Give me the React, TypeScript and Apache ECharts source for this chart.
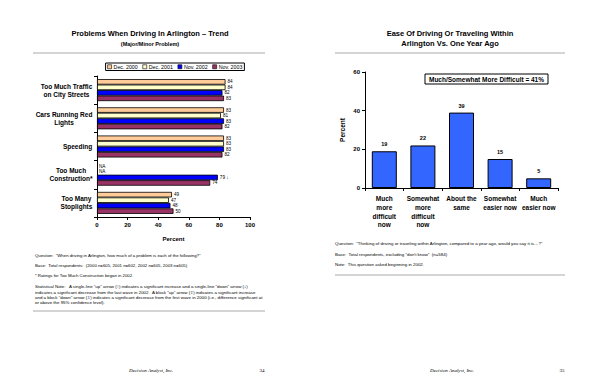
import React, { useEffect, useRef } from "react";
import * as echarts from "echarts";

// ---- Left chart data ----
const problemCategories = [
  "Too Much Traffic\non City Streets",
  "Cars Running Red\nLights",
  "Speeding",
  "Too Much\nConstruction*",
  "Too Many\nStoplights",
];
const seriesNames = ["Dec. 2000", "Dec. 2001", "Nov. 2002", "Nov. 2003"];
const dec2000 = [84, 83, 83, null, 49];
const dec2001 = [84, 81, 83, null, 47];
const nov2002 = [82, 83, 83, 79, 48];
const nov2003 = [83, 82, 82, 74, 50];
const nov2002Arrows = ["", "", "", "↓", ""];
const xTicksLeft = [0, 20, 40, 60, 80, 100];

// ---- Right chart data ----
const easeCategories = [
  "Much\nmore\ndifficult\nnow",
  "Somewhat\nmore\ndifficult\nnow",
  "About the\nsame",
  "Somewhat\neasier now",
  "Much\neasier now",
];
const easeValues = [19, 22, 39, 15, 5];
const yTicksRight = [0, 20, 40, 60];

const seriesColors = ["#FFCC99", "#FFFFCC", "#0000FF", "#993366"];
const FONT = "Liberation Sans, Arial, sans-serif";
const CAT_FONT_SIZE = 6.5;
const LEGEND_FONT = 5.3;

const leftNotes = [
  { y: 255, t: "Question:  \"When driving in Arlington, how much of a problem is each of the following?\"" },
  { y: 265, t: "Base:  Total respondents:  (2000 n=605, 2001 n=602, 2002 n=605, 2003 n=605)" },
  { y: 275, t: "* Ratings for Too Much Construction began in 2002." },
  { y: 286, t: "Statistical Note:   A single-line \"up\" arrow (↑) indicates a significant increase and a single-line \"down\" arrow (↓)" },
  { y: 292, t: "indicates a significant decrease from the last wave in 2002.  A block \"up\" arrow (⇧) indicates a significant increase" },
  { y: 297, t: "and a block \"down\" arrow (⇩) indicates a significant decrease from the first wave in 2000 (i.e., difference significant at" },
  { y: 302, t: "or above the 95% confidence level)." },
];
const rightNotes = [
  { y: 243, t: "Question:  \"Thinking of driving or traveling within Arlington, compared to a year ago, would you say it is…?\"" },
  { y: 254, t: "Base:  Total respondents, excluding \"don't know\"  (n=584)" },
  { y: 264, t: "Note:  This question asked beginning in 2002." },
];

function mkSeries(name: string, vals: (number | null)[], color: string, arrows?: string[]) {
  return {
    name,
    type: "bar",
    xAxisIndex: 0,
    yAxisIndex: 0,
    barGap: "0%",
    barCategoryGap: "22%",
    itemStyle: { color, borderColor: "#000", borderWidth: 0.8 },
    label: {
      show: true,
      position: "right",
      distance: 2,
      fontSize: 4.6,
      lineHeight: 5,
      fontFamily: FONT,
      color: "#000",
    },
    data: vals.map((v, i) =>
      v === null
        ? { value: 0, itemStyle: { borderWidth: 0 }, label: { formatter: "NA" } }
        : arrows && arrows[i]
        ? { value: v, label: { formatter: v + " " + arrows[i] } }
        : v
    ),
  };
}

export default function App() {
  const ref = useRef<HTMLDivElement>(null);
  useEffect(() => {
    document.body.style.margin = "0";
    const ctx = document.createElement("canvas").getContext("2d")!;
    ctx.font = `bold ${CAT_FONT_SIZE}px ${FONT}`;
    const rich: Record<string, any> = {};
    const catFormatter: string[] = problemCategories.map((c, i) => {
      const lines = c.split("\n");
      const w = Math.ceil(Math.max(...lines.map((l) => ctx.measureText(l).width))) + 1;
      rich["c" + i] = {
        width: w,
        align: "center",
        fontSize: CAT_FONT_SIZE,
        fontWeight: "bold",
        lineHeight: 8,
        color: "#000",
        fontFamily: FONT,
      };
      return lines.map((l) => `{c${i}|${l}}`).join("\n");
    });

    // legend built as graphics (box centred at x=175)
    ctx.font = `${LEGEND_FONT}px ${FONT}`;
    const sw = 4, sGap = 2, iGap = 5, pad = 2;
    const widths = seriesNames.map((n) => ctx.measureText(n).width);
    const total = pad * 2 + widths.reduce((a, w) => a + sw + sGap + w, 0) + iGap * (seriesNames.length - 1);
    const lx0 = 175 - total / 2;
    const legendTop = 63, legendH = 7.5;
    const legendEls: any[] = [
      { type: "rect", shape: { x: lx0, y: legendTop, width: total, height: legendH }, style: { fill: "#fff", stroke: "#000", lineWidth: 1 } },
    ];
    let cx = lx0 + pad;
    seriesNames.forEach((n, i) => {
      legendEls.push({ type: "rect", shape: { x: cx, y: legendTop + (legendH - sw) / 2, width: sw, height: sw }, style: { fill: seriesColors[i], stroke: "#000", lineWidth: 0.6 } });
      legendEls.push({ type: "text", x: cx + sw + sGap, y: legendTop + legendH / 2, style: { text: n, font: `${LEGEND_FONT}px ${FONT}`, fill: "#000", textVerticalAlign: "middle" } });
      cx += sw + sGap + widths[i] + iGap;
    });

    const chart = echarts.init(ref.current!, undefined, { renderer: "svg" });
    const graphics: any[] = [
      { type: "text", x: 150, y: 33, style: { text: "Problems When Driving In Arlington – Trend", font: `bold 7.5px ${FONT}`, fill: "#000", textAlign: "center", textVerticalAlign: "middle" } },
      { type: "text", x: 150, y: 44, style: { text: "(Major/Minor Problem)", font: `bold 5.5px ${FONT}`, fill: "#000", textAlign: "center", textVerticalAlign: "middle" } },
      { type: "line", shape: { x1: 33, y1: 53, x2: 265, y2: 53 }, style: { stroke: "#aaa", lineWidth: 1 } },
      { type: "text", x: 450, y: 33, style: { text: "Ease Of Driving Or Traveling Within", font: `bold 7.5px ${FONT}`, fill: "#000", textAlign: "center", textVerticalAlign: "middle" } },
      { type: "text", x: 450, y: 43, style: { text: "Arlington Vs. One Year Ago", font: `bold 7.5px ${FONT}`, fill: "#000", textAlign: "center", textVerticalAlign: "middle" } },
      { type: "line", shape: { x1: 335, y1: 53, x2: 565, y2: 53 }, style: { stroke: "#aaa", lineWidth: 1 } },
      { type: "rect", shape: { x: 425, y: 74, width: 123, height: 10 }, style: { fill: "#fff", stroke: "#000", lineWidth: 1 } },
      { type: "text", x: 486.5, y: 79, style: { text: "Much/Somewhat More Difficult = 41%", font: `bold 6.5px ${FONT}`, fill: "#000", textAlign: "center", textVerticalAlign: "middle" } },
      { type: "line", shape: { x1: 33, y1: 311, x2: 265, y2: 311 }, style: { stroke: "#aaa", lineWidth: 1 } },
      { type: "line", shape: { x1: 335, y1: 275, x2: 565, y2: 275 }, style: { stroke: "#aaa", lineWidth: 1 } },
      { type: "text", x: 151, y: 370, style: { text: "Decision Analyst, Inc.", font: `italic 5px Liberation Serif, serif`, fill: "#000", textAlign: "center", textVerticalAlign: "middle" } },
      { type: "text", x: 262, y: 370, style: { text: "34", font: `5px Liberation Serif, serif`, fill: "#000", textAlign: "center", textVerticalAlign: "middle" } },
      { type: "text", x: 452, y: 370, style: { text: "Decision Analyst, Inc.", font: `italic 5px Liberation Serif, serif`, fill: "#000", textAlign: "center", textVerticalAlign: "middle" } },
      { type: "text", x: 562, y: 370, style: { text: "35", font: `5px Liberation Serif, serif`, fill: "#000", textAlign: "center", textVerticalAlign: "middle" } },
      ...legendEls,
    ];
    leftNotes.forEach((n, i) =>
      graphics.push({ type: "text", x: 35, y: n.y, style: { text: n.t, font: `${i >= 3 ? 4.4 : 4.3}px ${FONT}`, fill: "#000", textVerticalAlign: "middle" } })
    );
    rightNotes.forEach((n) =>
      graphics.push({ type: "text", x: 335, y: n.y, style: { text: n.t, font: `4.4px ${FONT}`, fill: "#000", textVerticalAlign: "middle" } })
    );

    chart.setOption({
      animation: false,
      backgroundColor: "#fff",
      textStyle: { fontFamily: FONT },
      grid: [
        { left: 97, top: 76, width: 153, height: 141, containLabel: false },
        { left: 365, top: 72, width: 193, height: 116, containLabel: false },
      ],
      xAxis: [
        {
          type: "value",
          gridIndex: 0,
          min: xTicksLeft[0],
          max: xTicksLeft[xTicksLeft.length - 1],
          interval: 20,
          axisLine: { show: true, lineStyle: { color: "#000", width: 1 } },
          axisTick: { show: true, length: 3, lineStyle: { color: "#000" } },
          splitLine: { show: false },
          axisLabel: { fontSize: 6, fontWeight: "bold", color: "#000", margin: 5, fontFamily: FONT },
          name: "Percent",
          nameLocation: "middle",
          nameGap: 19,
          nameTextStyle: { fontSize: 6, fontWeight: "bold", color: "#000", fontFamily: FONT },
        },
        {
          type: "category",
          gridIndex: 1,
          data: easeCategories,
          axisLine: { show: true, lineStyle: { color: "#000", width: 1 } },
          axisTick: { show: true, length: 3, lineStyle: { color: "#000" } },
          axisLabel: { fontSize: 6.5, fontWeight: "bold", color: "#000", margin: 6, lineHeight: 8.8, interval: 0, fontFamily: FONT, verticalAlign: "top" },
        },
      ],
      yAxis: [
        {
          type: "category",
          gridIndex: 0,
          inverse: true,
          data: problemCategories,
          axisLine: { show: true, lineStyle: { color: "#000", width: 1 } },
          axisTick: { show: true, length: 3, lineStyle: { color: "#000" } },
          axisLabel: {
            fontSize: CAT_FONT_SIZE,
            fontWeight: "bold",
            color: "#000",
            margin: 4,
            lineHeight: 8,
            interval: 0,
            fontFamily: FONT,
            formatter: (_v: string, idx: number) => catFormatter[idx],
            rich,
          },
        },
        {
          type: "value",
          gridIndex: 1,
          min: yTicksRight[0],
          max: yTicksRight[yTicksRight.length - 1],
          interval: 20,
          axisLine: { show: true, lineStyle: { color: "#000", width: 1 } },
          axisTick: { show: true, length: 3, lineStyle: { color: "#000" } },
          splitLine: { show: false },
          axisLabel: { fontSize: 6, fontWeight: "bold", color: "#000", margin: 5, fontFamily: FONT },
          name: "Percent",
          nameLocation: "middle",
          nameGap: 19,
          nameRotate: 90,
          nameTextStyle: { fontSize: 6.5, fontWeight: "bold", color: "#000", fontFamily: FONT },
        },
      ],
      series: [
        mkSeries(seriesNames[0], dec2000, seriesColors[0]),
        mkSeries(seriesNames[1], dec2001, seriesColors[1]),
        mkSeries(seriesNames[2], nov2002, seriesColors[2], nov2002Arrows),
        mkSeries(seriesNames[3], nov2003, seriesColors[3]),
        {
          name: "Ease",
          type: "bar",
          xAxisIndex: 1,
          yAxisIndex: 1,
          barWidth: 25,
          itemStyle: { color: "#3366FF", borderColor: "#000", borderWidth: 1 },
          label: { show: true, position: "top", distance: 4, fontSize: 5.5, fontWeight: "bold", color: "#000", fontFamily: FONT },
          data: easeValues,
        },
      ],
      graphic: graphics,
    });
    return () => chart.dispose();
  }, []);
  return <div ref={ref} style={{ width: 600, height: 388 }} />;
}
